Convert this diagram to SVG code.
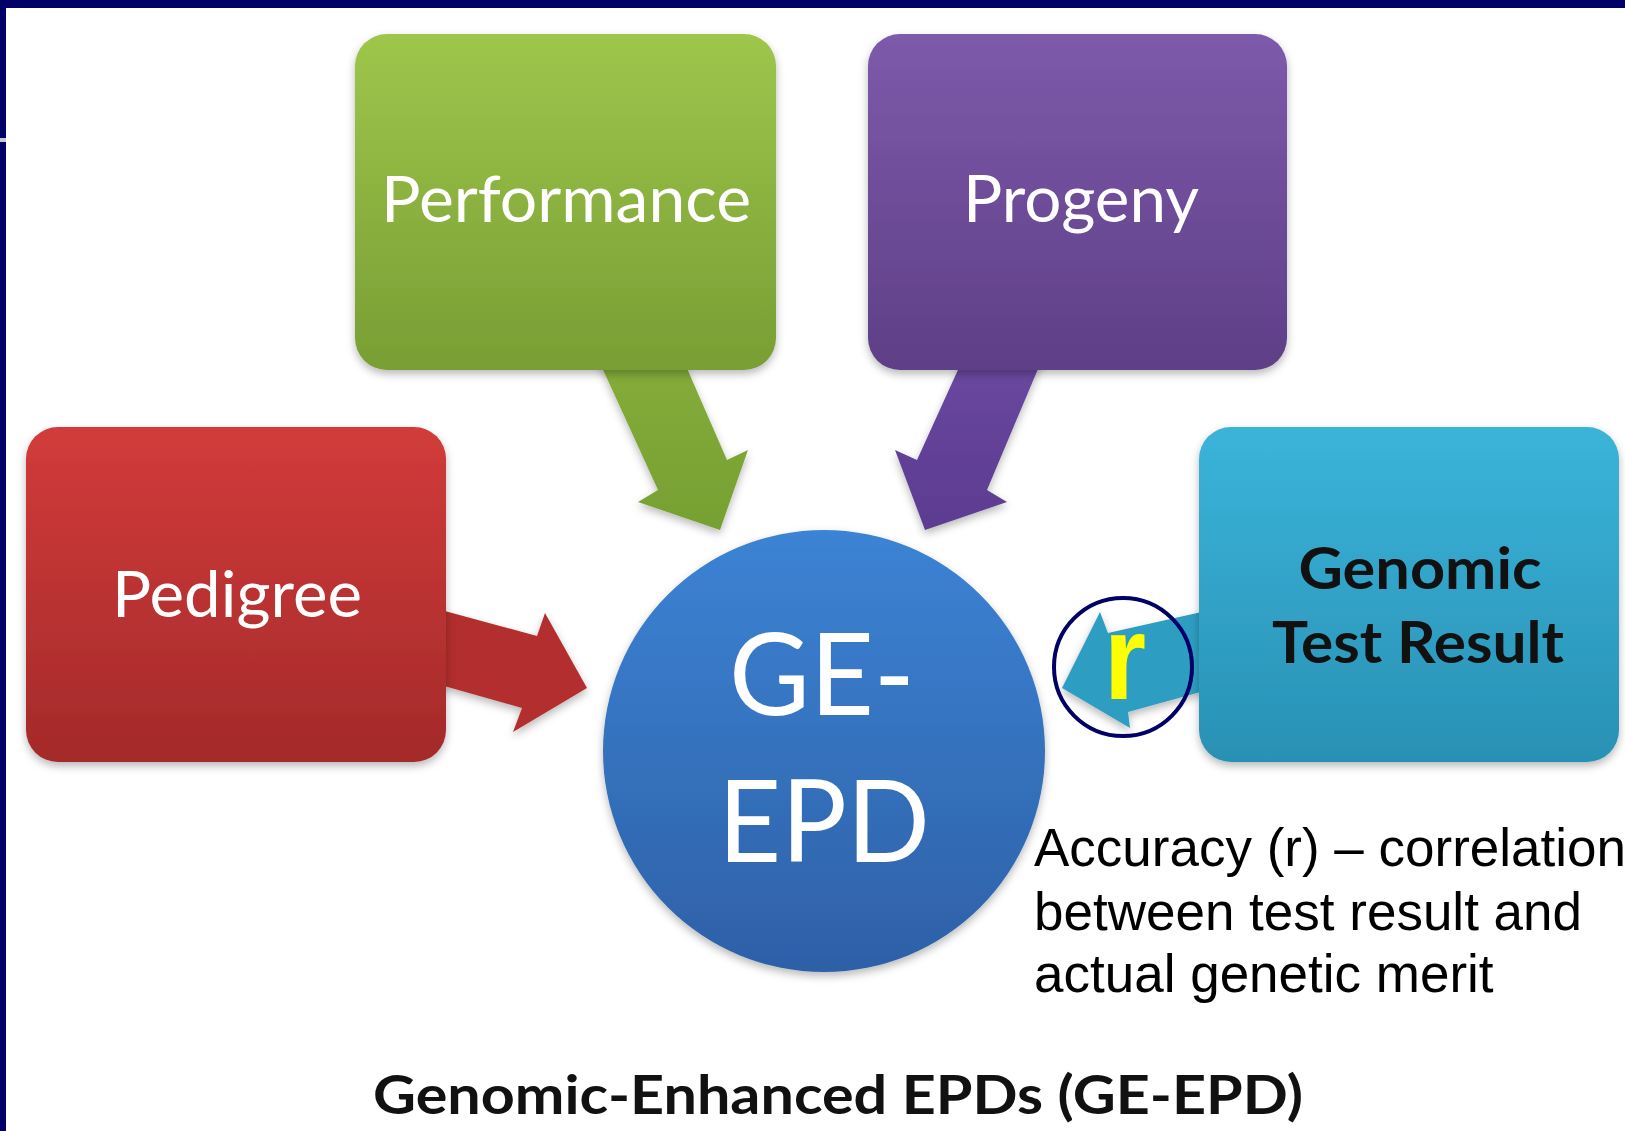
<svg xmlns="http://www.w3.org/2000/svg" width="1625" height="1131" viewBox="0 0 1625 1131">
  <defs>
    <linearGradient id="gGreen" x1="0" y1="0" x2="0" y2="1">
      <stop offset="0" stop-color="#9ec64b"/>
      <stop offset="1" stop-color="#789e34"/>
    </linearGradient>
    <linearGradient id="gPurple" x1="0" y1="0" x2="0" y2="1">
      <stop offset="0" stop-color="#7e5aab"/>
      <stop offset="1" stop-color="#5e3f86"/>
    </linearGradient>
    <linearGradient id="gRed" x1="0" y1="0" x2="0" y2="1">
      <stop offset="0" stop-color="#d23b3a"/>
      <stop offset="1" stop-color="#a42a2a"/>
    </linearGradient>
    <linearGradient id="gTeal" x1="0" y1="0" x2="0" y2="1">
      <stop offset="0" stop-color="#3bb4da"/>
      <stop offset="1" stop-color="#2891b4"/>
    </linearGradient>
    <linearGradient id="gBlue" x1="0" y1="0" x2="0" y2="1">
      <stop offset="0" stop-color="#3c83d4"/>
      <stop offset="1" stop-color="#2e60a7"/>
    </linearGradient>
    <linearGradient id="gGreenArrow" x1="0" y1="0" x2="0" y2="1">
      <stop offset="0" stop-color="#86ad3b"/>
      <stop offset="1" stop-color="#76a032"/>
    </linearGradient>
    <linearGradient id="gPurpleArrow" x1="0" y1="0" x2="0" y2="1">
      <stop offset="0" stop-color="#6a48a0"/>
      <stop offset="1" stop-color="#5c3c90"/>
    </linearGradient>
    <filter id="soft" x="-10%" y="-10%" width="120%" height="125%">
      <feDropShadow dx="0" dy="4" stdDeviation="4" flood-color="#000" flood-opacity="0.28"/>
    </filter>
  </defs>
  <style>
    .lbl { font-family: Lato, "Open Sans", "Noto Sans", sans-serif; fill: #ffffff; text-anchor: middle; }
    .dark { font-family: Lato, "Open Sans", "Noto Sans", sans-serif; font-weight: bold; fill: #111111; text-anchor: middle; }
    .note { font-family: "Liberation Sans", Arial, sans-serif; font-size: 53px; fill: #000000; }
  </style>

  <rect x="0" y="0" width="1625" height="1131" fill="#ffffff"/>

  <!-- frame bars -->
  <rect x="0" y="0" width="1625" height="8" fill="#000066"/>
  <rect x="0" y="0" width="6" height="1131" fill="#000066"/>
  <rect x="0" y="138" width="6" height="4" fill="#c8c8dc"/>

  <!-- arrows into the centre -->
  <g id="connectors" filter="url(#soft)">
    <polygon points="594,350 679,350 727,460 748,450 720,530 638,502 658,490" fill="url(#gGreenArrow)"/>
    <polygon points="967,350 1046,350 987,490 1007,502 925,530 895,450 917,460" fill="url(#gPurpleArrow)"/>
    <polygon points="430,607 537,636 545,613 587,688 513,732 522,708 430,682" fill="#b32f2f"/>
    <polygon points="1215,609 1108,633 1100,612 1062,688 1130,728 1128,712 1215,688" fill="#2d9dc2"/>
  </g>

  <g id="performance">
    <rect x="355" y="34" width="421" height="336" rx="32" fill="url(#gGreen)" filter="url(#soft)"/>
    <text class="lbl" x="566" y="222" font-size="63" textLength="370" lengthAdjust="spacingAndGlyphs">Performance</text>
  </g>

  <g id="progeny">
    <rect x="868" y="34" width="419" height="336" rx="32" fill="url(#gPurple)" filter="url(#soft)"/>
    <text class="lbl" x="1081" y="222" font-size="65" textLength="236" lengthAdjust="spacingAndGlyphs">Progeny</text>
  </g>

  <g id="pedigree">
    <rect x="26" y="427" width="420" height="335" rx="32" fill="url(#gRed)" filter="url(#soft)"/>
    <text class="lbl" x="237" y="617" font-size="63" textLength="250" lengthAdjust="spacingAndGlyphs">Pedigree</text>
  </g>

  <g id="genomic">
    <rect x="1199" y="427" width="420" height="335" rx="32" fill="url(#gTeal)" filter="url(#soft)"/>
    <text class="dark" x="1420" y="589" font-size="58" textLength="243" lengthAdjust="spacingAndGlyphs">Genomic</text>
    <text class="dark" x="1418" y="663" font-size="58" textLength="292" lengthAdjust="spacingAndGlyphs">Test Result</text>
  </g>

  <g id="ge-epd">
    <circle cx="824" cy="751" r="221" fill="url(#gBlue)" filter="url(#soft)"/>
    <text class="lbl" x="822" y="715" font-size="115" textLength="186" lengthAdjust="spacingAndGlyphs">GE-</text>
    <text class="lbl" x="824" y="862" font-size="115" textLength="212" lengthAdjust="spacingAndGlyphs">EPD</text>
  </g>

  <!-- accuracy marker on the genomic arrow -->
  <g id="accuracy-r">
    <circle cx="1123" cy="667" r="69" fill="none" stroke="#000066" stroke-width="4"/>
    <text x="1125" y="699" font-family="'Liberation Sans', Arial, sans-serif" font-weight="bold" font-size="120" fill="#ffff00" text-anchor="middle" textLength="42" lengthAdjust="spacingAndGlyphs">r</text>
  </g>

  <g id="accuracy-note">
    <text class="note" x="1034" y="866">Accuracy (r) – correlation</text>
    <text class="note" x="1034" y="930">between test result and</text>
    <text class="note" x="1034" y="992">actual genetic merit</text>
  </g>

  <g id="caption">
    <text class="dark" x="838" y="1114" font-size="54" textLength="930" lengthAdjust="spacingAndGlyphs">Genomic-Enhanced EPDs (GE-EPD)</text>
  </g>
</svg>
